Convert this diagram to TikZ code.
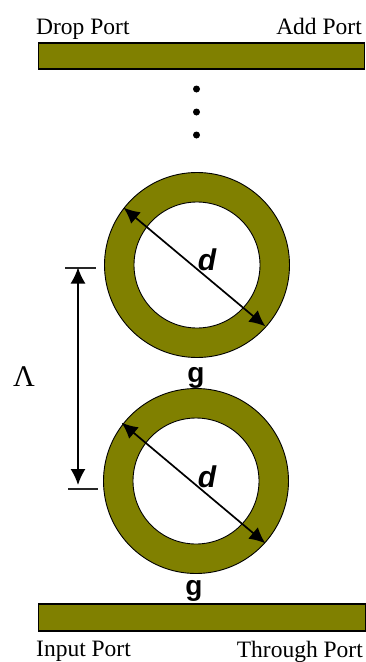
\documentclass[tikz,border=0pt]{standalone}
\usepackage{fontspec}
\setmainfont{Liberation Serif}
\setsansfont{Liberation Sans}
\usetikzlibrary{arrows.meta}
\definecolor{olivefill}{RGB}{128,128,0}
\tikzset{
  x=1pt,y=-1pt,
  waveguide/.style={draw=black,line width=1.2pt,fill=olivefill,rectangle,inner sep=0pt,outer sep=0pt},
  ringouter/.style={draw=black,line width=0.9pt,fill=olivefill,circle,inner sep=0pt,outer sep=0pt},
  ringinner/.style={draw=black,line width=0.9pt,fill=white,circle,inner sep=0pt,outer sep=0pt},
  portlabel/.style={font=\fontsize{23.5}{24}\selectfont,inner sep=0pt},
  gaplabel/.style={font=\sffamily\bfseries\fontsize{28}{28}\selectfont,inner sep=0pt},
  dlabel/.style={font=\sffamily\bfseries\itshape\fontsize{30}{30}\selectfont,inner sep=0pt},
  dotmark/.style={circle,fill=black,minimum size=7pt,inner sep=0pt},
  dimarrow/.style={line width=1.7pt,{Latex[length=16pt,width=15pt]}-{Latex[length=16pt,width=15pt]},shorten <=-0.5pt,shorten >=-0.5pt},
  tickline/.style={draw=black!85,line width=1.2pt}
}
\begin{document}
\begin{tikzpicture}
\useasboundingbox (0,0) rectangle (365,662);
\node[waveguide,minimum width=326pt,minimum height=26pt] (topbar) at (201.5,56) {};
\node[waveguide,minimum width=327pt,minimum height=27pt] (botbar) at (202,617.5) {};
\node[portlabel,anchor=base west] (drop) at (36,34) {Drop Port};
\node[portlabel,anchor=base east] (add) at (362,34) {Add Port};
\node[portlabel,anchor=base west] (input) at (36,656) {Input Port};
\node[portlabel,anchor=base east] (through) at (363,657) {Through Port};
\node[dotmark] (dota) at (196.5,89) {};
\node[dotmark] (dotb) at (196.5,112) {};
\node[dotmark] (dotc) at (196.5,135) {};
\node[ringouter,minimum size=185pt] (ringA) at (197,265) {};
\node[ringinner,minimum size=126pt] (holeA) at (197,265) {};
\node[ringouter,minimum size=185pt] (ringB) at (196,481) {};
\node[ringinner,minimum size=126pt] (holeB) at (196,481) {};
\coordinate (a1) at (124,208);
\coordinate (a2) at (265,326);
\coordinate (b1) at (122,423);
\coordinate (b2) at (265,543);
\draw[dimarrow] (a1) -- (a2);
\draw[dimarrow] (b1) -- (b2);
\coordinate (t1l) at (65,268);
\coordinate (t1r) at (96,268);
\coordinate (t2l) at (68,489);
\coordinate (t2r) at (98,489);
\coordinate (lamtop) at (78,268);
\coordinate (lambot) at (78,484.5);
\draw[tickline] (t1l) -- (t1r);
\draw[tickline] (t2l) -- (t2r);
\draw[dimarrow] (lamtop) -- (lambot);
\node[dlabel] (da) at (207,260) {d};
\node[dlabel] (db) at (207,477) {d};
\node[gaplabel,anchor=base] (ga) at (196,382) {g};
\node[gaplabel,anchor=base] (gb) at (194,595) {g};
\node[font=\fontsize{30}{30}\selectfont,inner sep=0pt,anchor=base] (lam) at (24,386) {Λ};
\end{tikzpicture}
\end{document}
